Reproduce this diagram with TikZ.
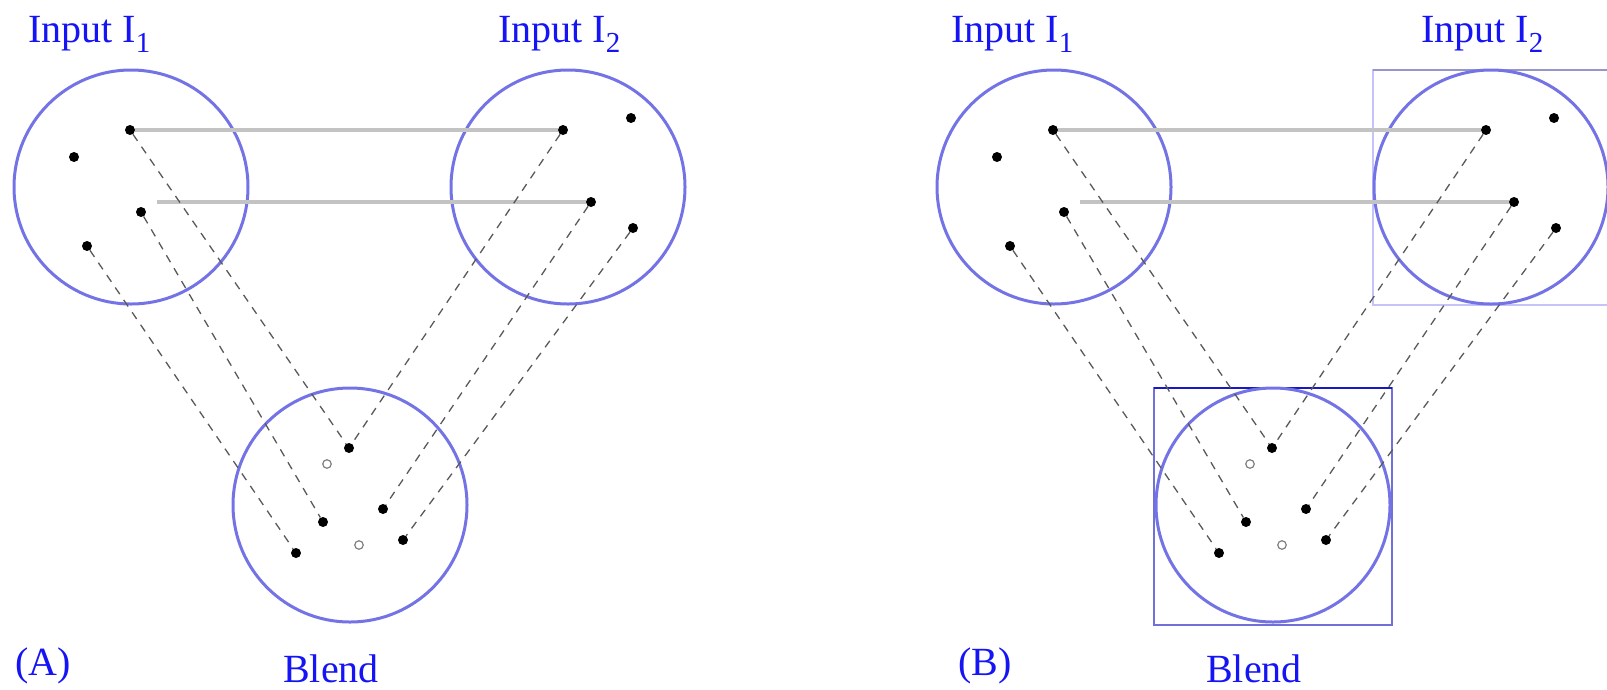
\documentclass[tikz,border=0pt]{standalone}
\usepackage{fontspec}
\setmainfont{Liberation Serif}
\definecolor{ringblue}{RGB}{115,115,230}
\definecolor{labelblue}{RGB}{20,20,245}
\definecolor{corrgray}{RGB}{195,195,195}
\definecolor{sqlight}{RGB}{196,196,250}
\definecolor{sqtopgray}{RGB}{150,150,205}
\definecolor{sqmid}{RGB}{112,112,218}
\definecolor{sqdark}{RGB}{25,25,195}
\newcommand\subidx[1]{\raisebox{-10pt}{\fontsize{29}{30}\selectfont #1}}
\newcommand\blendpanel[2]{%
\begin{scope}[xshift=#2pt]
  % spaces
  \node[ring] (#1I1) at (131,187) {};
  \node[ring] (#1I2) at (568,187) {};
  \node[ring] (#1Bl) at (350,505) {};
  % labels
  \node[lbl] (#1L1) at (28,42) {Input I\subidx{1}};
  \node[lbl] (#1L2) at (498,42) {Input I\subidx{2}};
  \node[lbl] (#1LB) at (283,682) {Blend};
  % input 1 elements
  \node[dot] (#1a1) at (130,130) {};
  \node[dot] (#1a2) at (74,157) {};
  \node[dot] (#1a3) at (141,212) {};
  \node[dot] (#1a4) at (87,246) {};
  % input 2 elements
  \node[dot] (#1b1) at (563,130) {};
  \node[dot] (#1b2) at (631,118) {};
  \node[dot] (#1b3) at (591,202) {};
  \node[dot] (#1b4) at (633,228) {};
  % blend elements
  \node[dot] (#1c1) at (349,448) {};
  \node[hollow] (#1h1) at (327,464) {};
  \node[dot] (#1c2) at (383,509) {};
  \node[dot] (#1c3) at (323,522) {};
  \node[hollow] (#1h2) at (359,545) {};
  \node[dot] (#1c4) at (403,540) {};
  \node[dot] (#1c5) at (296,553) {};
  \coordinate (#1g2) at (157,202);
  % cross-space mapping
  \draw[corr] (#1a1) -- (#1b1);
  \draw[corr] (#1g2) -- (#1b3);
  % projections to blend
  \draw[proj] (#1a1) -- (#1c1);
  \draw[proj] (#1b1) -- (#1c1);
  \draw[proj] (#1a3) -- (#1c3);
  \draw[proj] (#1a4) -- (#1c5);
  \draw[proj] (#1b3) -- (#1c2);
  \draw[proj] (#1b4) -- (#1c4);
\end{scope}}
\begin{document}
\begin{tikzpicture}[x=1pt,y=-1pt,
  ring/.style={circle, draw=ringblue, line width=3pt, minimum size=234pt, inner sep=0pt},
  dot/.style={circle, fill=black, inner sep=0pt, minimum size=10pt},
  hollow/.style={circle, draw=black!50, line width=1.2pt, inner sep=0pt, minimum size=8.5pt},
  corr/.style={draw=corrgray, line width=4pt},
  proj/.style={draw=black!65, line width=1.3pt, dash pattern=on 8pt off 7pt},
  lbl/.style={text=labelblue, font=\fontsize{40}{48}\selectfont, inner sep=0pt, anchor=base west}]
\useasboundingbox (0,0) rectangle (1607,689);
% frames of panel B
\draw[draw=sqlight, line width=1.5pt] (1373,70) rectangle (1610,305);
\draw[draw=sqtopgray, line width=1.6pt] (1373,70) -- (1610,70);
\draw[draw=sqmid, line width=1.5pt] (1154,388) rectangle (1392,625);
\draw[draw=sqdark, line width=2.4pt] (1154,388) -- (1392,388);
\blendpanel{A}{0}
\blendpanel{B}{923}
\node[lbl] (tagA) at (15,675) {(A)};
\node[lbl] (tagB) at (958,675) {(B)};
\end{tikzpicture}
\end{document}
